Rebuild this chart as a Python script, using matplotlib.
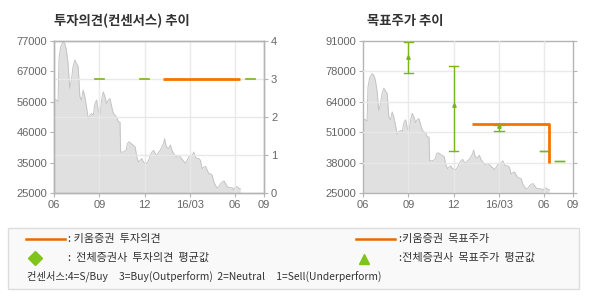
import matplotlib
matplotlib.use("Agg")
import matplotlib.pyplot as plt
from matplotlib.patches import Rectangle
from matplotlib.lines import Line2D

plt.rcParams['font.family'] = ['Noto Sans CJK KR', 'DejaVu Sans']

# 주가 (x = 2015/06 이후 개월 수)
price_month = [0, 0.16, 0.27, 0.33, 0.44, 0.60, 0.71, 0.82, 0.93, 1.04, 1.15, 1.26, 1.38, 1.49,
               1.60, 1.71, 1.82, 1.93, 2.04, 2.15, 2.26, 2.37, 2.48, 2.60, 2.71, 2.82, 2.93, 3.04,
               3.15, 3.26, 3.37, 3.48, 3.59, 3.70, 3.82, 3.93, 4.04, 4.15, 4.26, 4.37, 4.41, 4.59,
               4.77, 4.86, 4.97, 5.15, 5.37, 5.48, 5.59, 5.70, 5.81, 5.92, 6.03, 6.14, 6.26, 6.37,
               6.48, 6.59, 6.70, 6.81, 6.92, 7.03, 7.14, 7.25, 7.32, 7.43, 7.59, 7.70, 7.81, 7.92,
               8.10, 8.25, 8.36, 8.54, 8.70, 8.81, 8.92, 9.03, 9.14, 9.25, 9.36, 9.47, 9.58, 9.69,
               9.80, 9.92, 10.03, 10.14, 10.25, 10.36, 10.47, 10.58, 10.69, 10.80, 10.91, 11.03,
               11.14, 11.25, 11.36, 11.47, 11.69, 11.80, 11.91, 12.02, 12.13, 12.25, 12.33]
price = [57300, 56800, 56200, 71000, 75000, 76800, 76200, 74000, 69300, 60800, 63600, 68200,
         70500, 69300, 68200, 58000, 56800, 60200, 58000, 54500, 50500, 51600, 52200, 51600,
         55600, 56800, 53300, 51600, 56800, 59600, 58000, 55600, 56800, 57300, 54500, 52200,
         51600, 51000, 49300, 49300, 39000, 39000, 39600, 41900, 42500, 41700, 40800, 37300,
         35600, 36200, 36800, 35600, 35300, 35100, 36200, 37900, 39000, 39600, 38500, 37900,
         39000, 39600, 40800, 41900, 43600, 40800, 40200, 41400, 39600, 38500, 37300, 37900,
         37300, 36200, 35100, 36200, 37300, 37900, 37900, 39000, 37300, 36800, 36800, 36200,
         33300, 33900, 34100, 32800, 31600, 31600, 31100, 28800, 27600, 26700, 27100, 28200,
         28800, 29100, 28200, 27100, 26800, 26800, 26100, 27300, 27100, 26500, 26500]

# 투자의견
opinion_month = [7.23, 12.29]
opinion = [3, 3]
cons_opinion_month = [3.0, 6.0, 13.0]
cons_opinion = [3, 3, 3]

# 목표주가
target_month = [7.22, 12.29, 12.29]
target = [55000, 55000, 38000]
cons_target_month = [3.0, 6.0, 9.0, 12.0, 13.0]
cons_target_mean = [84000, 63000, 54200, 43100, 39000]
cons_target_low = [76900, 43100, 52100, 43100, 39000]
cons_target_high = [90700, 80000, 54400, 43100, 39000]

x_ticks = [0, 3, 6, 9, 12, 13.9]
x_labels = ['06', '09', '12', '16/03', '06', '09']
left_yticks = [25000, 35400, 45800, 56200, 66600, 77000]
left_ylabels = ['25000', '35000', '46000', '56000', '67000', '77000']
right_yticks = [25000, 38200, 51400, 64600, 77800, 91000]
right_ylabels = ['25000', '38000', '51000', '64000', '78000', '91000']

ORANGE = '#f57300'
GREEN = '#78b41c'
TICKC = '#666666'
SPINE = '#b4b4b4'
GRID = '#e8e8e8'
tickfont = dict(family='Liberation Sans', size=8, color=TICKC)

fig = plt.figure(figsize=(5.9, 3.0), dpi=100)


def style(ax):
    for s in ax.spines.values():
        s.set_color(SPINE)
        s.set_linewidth(1)
    ax.tick_params(length=3, color=SPINE, pad=2)
    ax.set_xlim(0, 13.9)
    ax.set_xticks(x_ticks)
    ax.set_xticklabels(x_labels, fontdict=tickfont)


def price_area(ax):
    ax.fill_between(price_month, price, 0, color='#e0e0e0', lw=0, zorder=1)
    ax.plot(price_month, price, color='#c4c4c4', lw=0.7, zorder=2)
    for xv in x_ticks[1:5]:
        ax.axvline(xv, color=GRID, lw=1, zorder=3, alpha=0.9)


# ---- 왼쪽: 투자의견 ----
ax1 = fig.add_axes([54 / 590, 107 / 300, 210 / 590, 152 / 300])
style(ax1)
ax1.set_ylim(25000, 77000)
price_area(ax1)
ax1.set_yticks(left_yticks)
ax1.set_yticklabels(left_ylabels, fontdict=tickfont)

ax1b = ax1.twinx()
style(ax1b)
ax1b.set_ylim(0, 4)
ax1b.set_yticks([0, 1, 2, 3, 4])
ax1b.set_yticklabels(['0', '1', '2', '3', '4'], fontdict=tickfont)
for yv in [1, 2, 3]:
    ax1b.axhline(yv, color=GRID, lw=1, zorder=0)
ax1b.plot(opinion_month, opinion, color=ORANGE, lw=2, solid_capstyle='butt', zorder=5)
for m, v in zip(cons_opinion_month, cons_opinion):
    ax1b.plot([m - 0.3, m + 0.3], [v, v], color=GREEN, lw=1.2, zorder=5)
fig.text(54 / 590, 1 - 21 / 300, '투자의견(컨센서스) 추이', fontsize=9.6, fontweight='bold',
         color='#333333', va='center')

# ---- 오른쪽: 목표주가 ----
ax2 = fig.add_axes([363 / 590, 107 / 300, 210 / 590, 152 / 300])
style(ax2)
ax2.set_ylim(25000, 91000)
price_area(ax2)
for yv in right_yticks[1:5]:
    ax2.axhline(yv, color=GRID, lw=1, zorder=3, alpha=0.9)
ax2.set_yticks(right_yticks)
ax2.set_yticklabels(right_ylabels, fontdict=tickfont)
ax2.tick_params(axis='y', right=True)
ax2.plot(target_month, target, color=ORANGE, lw=2, solid_capstyle='butt', zorder=5)
for m, mu, lo, hi in zip(cons_target_month, cons_target_mean, cons_target_low, cons_target_high):
    ax2.plot([m, m], [lo, hi], color=GREEN, lw=1, zorder=6)
    ax2.plot([m - 0.3, m + 0.3], [lo, lo], color=GREEN, lw=1, zorder=6)
    ax2.plot([m - 0.3, m + 0.3], [hi, hi], color=GREEN, lw=1, zorder=6)
    if hi > lo:
        ax2.plot([m], [mu], marker='^', ms=2.5, color=GREEN, zorder=7)
fig.text(367 / 590, 1 - 21 / 300, '목표주가 추이', fontsize=9.6, fontweight='bold',
         color='#333333', va='center')

# ---- 범례 ----
fig.patches.append(Rectangle((8 / 590, 1 - 289 / 300), 571 / 590, 61 / 300,
                             transform=fig.transFigure, facecolor='#f9f9f9',
                             edgecolor='#dddddd', lw=1))
legc = '#333333'
fig.lines.append(Line2D([26 / 590, 65 / 590], [1 - 239 / 300] * 2, transform=fig.transFigure,
                        color='#e86a00', lw=1.8))
fig.lines.append(Line2D([356 / 590, 395 / 590], [1 - 239 / 300] * 2, transform=fig.transFigure,
                        color='#e86a00', lw=1.8))
fig.lines.append(Line2D([35 / 590], [1 - 258 / 300], transform=fig.transFigure,
                        marker='D', ms=7, color='#80c31c', lw=0))
fig.lines.append(Line2D([364 / 590], [1 - 259 / 300], transform=fig.transFigure,
                        marker='^', ms=7, color='#80c31c', lw=0))
fig.text(68 / 590, 1 - 239 / 300, ': 키움증권  투자의견', fontsize=8, color=legc, va='center')
fig.text(68 / 590, 1 - 258 / 300, ':  전체증권사  투자의견  평균값', fontsize=8, color=legc, va='center')
fig.text(399 / 590, 1 - 239 / 300, ':키움증권  목표주가', fontsize=8, color=legc, va='center')
fig.text(399 / 590, 1 - 258 / 300, ':전체증권사  목표주가  평균값', fontsize=8, color=legc, va='center')
fig.text(27 / 590, 1 - 276 / 300,
         '컨센서스:4=S/Buy     3=Buy(Outperform)  2=Neutral     1=Sell(Underperform)',
         fontsize=7.4, color=legc, va='center')

fig.savefig('out.png', dpi=100, facecolor='white')
